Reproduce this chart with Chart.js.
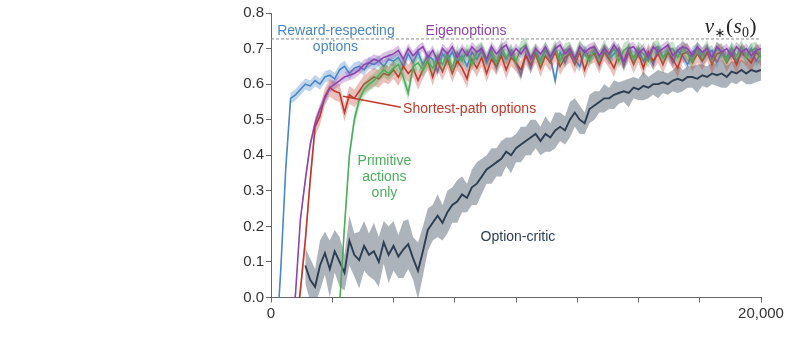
<!DOCTYPE html>
<html>
<head>
<meta charset="utf-8">
<script src="https://cdn.jsdelivr.net/npm/chart.js@4"></script>
<style>
  html, body { margin: 0; padding: 0; background: #fff; }
  #wrap { width: 789px; height: 352px; }
</style>
</head>
<body>
<div id="wrap"><canvas id="chart" width="789" height="352"></canvas></div>
<script>
// episodes, every 200
const episodes = [
  0,200,400,600,800,1000,1200,1400,1600,1800,
  2000,2200,2400,2600,2800,3000,3200,3400,3600,3800,
  4000,4200,4400,4600,4800,5000,5200,5400,5600,5800,
  6000,6200,6400,6600,6800,7000,7200,7400,7600,7800,
  8000,8200,8400,8600,8800,9000,9200,9400,9600,9800,
  10000,10200,10400,10600,10800,11000,11200,11400,11600,11800,
  12000,12200,12400,12600,12800,13000,13200,13400,13600,13800,
  14000,14200,14400,14600,14800,15000,15200,15400,15600,15800,
  16000,16200,16400,16600,16800,17000,17200,17400,17600,17800,
  18000,18200,18400,18600,18800,19000,19200,19400,19600,19800,
  20000
];

const rewardRespecting = [
  null,-0.15,0.08,0.36,0.56,0.57,0.585,0.6,0.595,0.61,
  0.6,0.62,0.625,0.615,0.64,0.65,0.63,0.645,0.65,0.64,
  0.66,0.655,0.665,0.65,0.67,0.665,
  0.675,0.65,0.685,0.66,0.69,0.655,0.68,0.67,0.635,0.685,
  0.665,0.69,0.66,0.68,0.65,0.69,0.67,0.695,0.66,0.685,
  0.645,0.69,0.67,0.695,0.66,0.625,0.685,0.645,0.69,0.665,
  0.695,0.675,0.61,0.69,0.66,0.695,0.67,0.65,0.695,0.675,
  0.69,0.655,0.695,0.67,0.685,0.7,0.65,0.69,0.675,0.695,
  0.665,0.69,0.655,0.7,0.675,0.69,0.66,0.695,0.68,0.655,
  0.69,0.7,0.665,0.685,0.695,0.66,0.69,0.675,0.7,0.665,
  0.69,0.675,0.7,0.665,0.685
];

const eigenoptions = [
  null,null,null,null,-0.1,0.01,0.22,0.33,0.43,0.49,
  0.53,0.56,0.59,0.6,0.61,0.62,0.625,0.63,0.64,0.655,
  0.66,0.67,0.665,0.675,0.68,
  0.685,0.695,0.67,0.7,0.68,0.695,0.705,0.675,0.695,0.665,
  0.7,0.685,0.705,0.675,0.7,0.68,0.705,0.69,0.7,0.67,
  0.705,0.685,0.7,0.71,0.68,0.7,0.685,0.705,0.67,0.7,
  0.685,0.705,0.675,0.7,0.71,0.685,0.7,0.67,0.705,0.69,
  0.7,0.705,0.68,0.7,0.685,0.71,0.69,0.665,0.7,0.705,
  0.685,0.7,0.675,0.705,0.69,0.7,0.71,0.68,0.695,0.705,
  0.7,0.68,0.705,0.69,0.7,0.675,0.705,0.69,0.7,0.68,
  0.705,0.69,0.7,0.68,0.695,0.7
];

const shortestPath = [
  null,null,null,null,null,-0.1,0.02,0.16,0.33,0.48,
  0.51,0.565,0.59,0.58,0.575,0.52,0.57,0.56,0.58,0.6,
  0.61,0.62,0.615,0.63,0.625,0.64,0.62,0.65,0.63,0.645,
  0.61,
  0.64,0.665,0.62,0.665,0.635,0.67,0.63,0.665,0.645,0.615,
  0.67,0.645,0.675,0.63,0.67,0.65,0.68,0.64,0.675,0.66,
  0.64,0.68,0.655,0.685,0.645,0.68,0.66,0.69,0.65,0.675,
  0.685,0.655,0.69,0.64,0.68,0.685,0.655,0.69,0.67,0.645,
  0.685,0.665,0.69,0.655,0.685,0.645,0.69,0.665,0.685,0.655,
  0.69,0.67,0.645,0.685,0.69,0.66,0.685,0.665,0.69,0.655,
  0.685,0.69,0.66,0.685,0.655,0.69,0.675,0.66,0.69,0.675
];

const primitiveOnly = [
  null,null,null,null,null,null,null,null,null,null,
  null,null,null,-0.1,-0.02,0.2,0.4,0.5,0.555,0.585,
  0.6,0.61,0.625,0.64,0.63,0.645,0.655,0.62,0.575,0.65,
  0.66,0.64,0.665,
  0.645,0.68,0.655,0.685,0.645,0.69,0.665,0.695,0.655,0.69,
  0.7,0.67,0.695,0.66,0.705,0.675,0.695,0.665,0.7,0.71,
  0.675,0.695,0.66,0.7,0.675,0.705,0.665,0.695,0.7,0.67,
  0.705,0.685,0.665,0.7,0.675,0.705,0.68,0.7,0.665,0.695,
  0.705,0.67,0.7,0.685,0.665,0.7,0.705,0.675,0.695,0.7,
  0.675,0.705,0.685,0.665,0.7,0.68,0.705,0.67,0.7,0.69,
  0.665,0.7,0.68,0.705,0.675,0.695,0.7,0.675
];

const optionCritic = [
  null,null,null,null,null,null,null,0.09,0.05,0.03,
  0.09,0.125,0.08,0.13,0.1,0.07,0.16,0.12,0.105,0.145,
  0.12,0.13,0.1,0.155,0.12,0.145,0.115,0.135,0.15,0.11,
  0.075,0.13,0.19,0.21,0.23,0.21,0.24,0.26,0.27,0.29,
  0.28,0.31,0.32,0.34,0.36,0.37,0.38,0.39,0.41,0.4,
  0.42,0.43,0.44,0.45,0.46,0.44,0.46,0.45,0.47,0.48,
  0.47,0.5,0.52,0.5,0.49,0.53,0.54,0.55,0.56,0.56,
  0.57,0.575,0.58,0.575,0.59,0.585,0.595,0.59,0.6,0.6,
  0.605,0.6,0.61,0.615,0.61,0.62,0.62,0.615,0.625,0.62,
  0.63,0.625,0.63,0.62,0.635,0.63,0.64,0.63,0.64,0.635,
  0.64
];

// half-width of the shaded bands
const optionCriticErr = [
  null,null,null,null,null,null,null,
  0.05,0.06,0.05,0.07,0.06,0.08,0.06,0.07,0.05,0.07,
  0.06,0.08,0.07,0.06,0.08,0.07,0.06,0.08,0.07,0.06,
  0.08,0.07,0.06,0.08,0.07,0.06,0.05,0.06,0.05,0.06,
  0.05,0.06,0.05,0.04,0.05,0.06,0.05,0.04,0.05,0.04,
  0.05,0.04,0.05,0.04,0.05,0.04,0.05,0.04,0.04,0.05,
  0.04,0.05,0.04,0.04,0.05,0.04,0.04,0.03,0.04,0.04,
  0.03,0.04,0.03,0.04,0.03,0.03,0.04,0.03,0.03,0.04,
  0.03,0.03,0.04,0.03,0.03,0.03,0.04,0.03,0.03,0.03,
  0.04,0.03,0.03,0.03,0.03,0.04,0.03,0.03,0.03,0.03,
  0.03,0.04,0.03,0.03
];
const rewardErr = 0.016;
const eigenErr = 0.014;
const shortestErr = 0.025;
const primitiveErr = 0.02;

const vStar = 0.727;

const FONT = '"Liberation Sans", Arial, Helvetica, sans-serif';

function pts(vals, off) {
  return episodes.map((x, i) => {
    const v = vals[i];
    if (v == null) return { x, y: null };
    const o = off == null ? 0 : (typeof off === 'number' ? off : off[i]);
    return { x, y: v + o };
  });
}
function neg(e) {
  return typeof e === 'number' ? -e : e.map(v => v == null ? null : -v);
}

const series = [
  { vals: optionCritic, err: optionCriticErr, line: '#2c3e50', band: 'rgba(60,75,92,0.42)', w: 1.9 },
  { vals: rewardRespecting, err: rewardErr, line: '#4a87c5', band: 'rgba(74,135,197,0.35)', w: 1.6 },
  { vals: shortestPath, err: shortestErr, line: '#c0392b', band: 'rgba(192,57,43,0.32)', w: 1.6 },
  { vals: primitiveOnly, err: primitiveErr, line: '#4cae5c', band: 'rgba(76,174,92,0.35)', w: 1.6 },
  { vals: eigenoptions, err: eigenErr, line: '#8e44ad', band: 'rgba(142,68,173,0.32)', w: 1.6 }
];

const datasets = [];
let ord = 20;
series.forEach(s => {
  datasets.push({
    data: pts(s.vals, neg(s.err)), borderWidth: 0, pointRadius: 0, fill: false,
    borderColor: 'rgba(0,0,0,0)', order: ord
  });
  datasets.push({
    data: pts(s.vals, s.err), borderWidth: 0, pointRadius: 0, fill: '-1',
    backgroundColor: s.band, borderColor: 'rgba(0,0,0,0)', order: ord
  });
  ord--;
  datasets.push({
    data: pts(s.vals), borderColor: s.line, borderWidth: s.w, pointRadius: 0,
    fill: false, order: ord
  });
  ord--;
});
datasets.push({
  data: [{ x: 0, y: vStar }, { x: 20000, y: vStar }],
  borderColor: '#8a8a8a', borderWidth: 1, borderDash: [3, 2], pointRadius: 0, order: 0
});

const annotations = {
  id: 'annotations',
  afterDatasetsDraw(chart) {
    const { ctx, scales: { x, y } } = chart;
    ctx.save();
    ctx.font = '14px ' + FONT;
    ctx.textBaseline = 'middle';
    const t = (txt, xv, yv, col, align) => {
      ctx.fillStyle = col;
      ctx.textAlign = align || 'center';
      ctx.fillText(txt, x.getPixelForValue(xv), y.getPixelForValue(yv));
    };
    t('Reward-respecting', 2650, 0.749, '#4a87c5');
    t('options', 2630, 0.704, '#4a87c5');
    t('Eigenoptions', 7960, 0.749, '#8e44ad');
    t('Shortest-path options', 5390, 0.529, '#c0392b', 'left');
    t('Primitive', 4630, 0.383, '#4cae5c');
    t('actions', 4630, 0.338, '#4cae5c');
    t('only', 4630, 0.293, '#4cae5c');
    t('Option-critic', 10080, 0.17, '#2c3e50');

    // connector for shortest-path label
    ctx.strokeStyle = '#c0392b';
    ctx.lineWidth = 1.6;
    ctx.beginPath();
    ctx.moveTo(x.getPixelForValue(2940), y.getPixelForValue(0.566));
    ctx.lineTo(x.getPixelForValue(5300), y.getPixelForValue(0.535));
    ctx.stroke();

    // v*(s0)
    const parts = [
      { s: 'v', f: 'italic 21px "Liberation Serif", "DejaVu Serif", serif', dy: 0 },
      { s: '\u2217', f: '13px "DejaVu Sans", sans-serif', dy: 4 },
      { s: '(', f: '21px "Liberation Serif", "DejaVu Serif", serif', dy: 0 },
      { s: 's', f: 'italic 21px "Liberation Serif", "DejaVu Serif", serif', dy: 0 },
      { s: '0', f: '14px "Liberation Serif", "DejaVu Serif", serif', dy: 4 },
      { s: ')', f: '21px "Liberation Serif", "DejaVu Serif", serif', dy: 0 }
    ];
    ctx.textAlign = 'left';
    ctx.textBaseline = 'alphabetic';
    ctx.fillStyle = '#222';
    let w = 0;
    parts.forEach(p => { ctx.font = p.f; p.w = ctx.measureText(p.s).width; w += p.w + 0.5; });
    let px = x.getPixelForValue(19840) - w;
    const base = y.getPixelForValue(0.743);
    parts.forEach(p => { ctx.font = p.f; ctx.fillText(p.s, px, base + p.dy); px += p.w + 0.5; });
    ctx.restore();
  }
};

new Chart(document.getElementById('chart').getContext('2d'), {
  type: 'line',
  data: { datasets },
  options: {
    responsive: false,
    animation: false,
    events: [],
    layout: { padding: { left: 0, right: 28, top: 13, bottom: 0 } },
    plugins: { legend: { display: false }, tooltip: { enabled: false } },
    elements: { line: { tension: 0 } },
    scales: {
      x: {
        type: 'linear', min: 0, max: 20000,
        afterFit: s => { s.height = 54.5; },
        border: { color: '#666', width: 1 },
        grid: { drawOnChartArea: false, tickLength: 5, color: '#666' },
        ticks: {
          stepSize: 2500, autoSkip: false, maxRotation: 0, padding: 2,
          color: '#333', font: { family: FONT, size: 15 },
          callback: v => (v === 0 || v === 20000) ? v.toLocaleString('en-US') : ''
        }
      },
      y: {
        min: 0, max: 0.8,
        afterFit: s => { s.width = 271; },
        border: { color: '#666', width: 1 },
        grid: { drawOnChartArea: false, tickLength: 5, color: '#666' },
        ticks: {
          stepSize: 0.1, padding: 2,
          color: '#333', font: { family: FONT, size: 15 },
          callback: v => v.toFixed(1)
        }
      }
    }
  },
  plugins: [annotations]
});
</script>
</body>
</html>
